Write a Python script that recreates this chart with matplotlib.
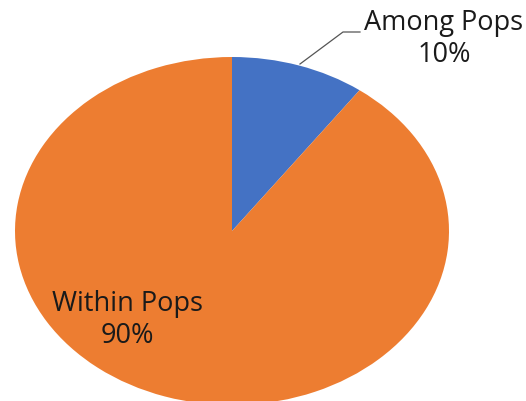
import matplotlib
import matplotlib.pyplot as plt

matplotlib.use('Agg')

labels = ['Among Pops', 'Within Pops']
shares = [10, 90]
colors = ['#4472C4', '#ED7D31']

# pixel geometry of the reference (centre and radii of the stretched pie)
W, H = 526, 401
cx, cy = 232, 231
rx, ry = 217, 174


def px(x, y):
    # convert reference pixel position to pie data coordinates
    return (x - cx) / rx, (cy - y) / ry


fig = plt.figure(figsize=(W / 100, H / 100), dpi=100)
ax = fig.add_axes([0, 0, 1, 1])
ax.pie(shares, colors=colors, startangle=90, counterclock=False,
       wedgeprops=dict(linewidth=0))
ax.set_aspect('auto')
ax.set_xlim(px(0, 0)[0], px(W, 0)[0])
ax.set_ylim(px(0, H)[1], px(0, 0)[1])
ax.axis('off')

font = dict(family='Open Sans', fontsize=19.5, color='#1a1a1a')

# Among Pops label with leader line
ax.plot(*zip(px(300, 64), px(343, 32), px(360, 32)), color='#555555', lw=0.9)
ax.text(*px(444, 39), labels[0] + '\n' + str(shares[0]) + '%', ha='center', va='center',
        linespacing=1.15, **font)

ax.text(*px(127, 320), labels[1] + '\n' + str(shares[1]) + '%', ha='center', va='center',
        linespacing=1.15, **font)

fig.savefig('out.png', dpi=100)
